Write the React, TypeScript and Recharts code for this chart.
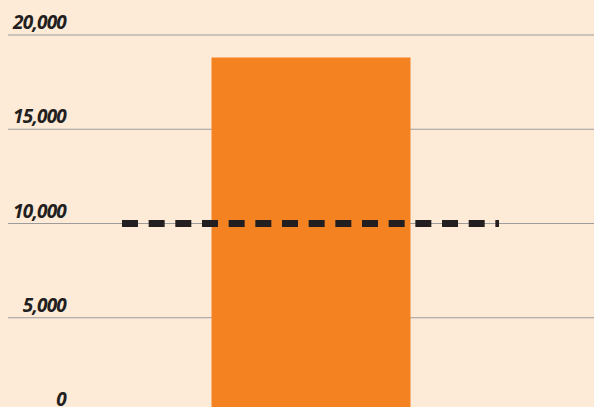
import React, { useLayoutEffect } from 'react';
import { ComposedChart, Bar, XAxis, YAxis, CartesianGrid, ReferenceLine } from 'recharts';

// horizontal positions on a 0-100 scale across the plot
const barPosition = [51.62];
const totals = [18800];
const target = 10000;
const targetStart = 19.45;
const targetEnd = 83.79;
const yTicks = [0, 5000, 10000, 15000, 20000];

const chartData = barPosition.map((x, i) => ({ x, total: totals[i] }));

const BG = '#fdead7';

const renderTick = (props: any) => {
    const { y, payload } = props;
    return (
        <text
            key={payload.value}
            x={58}
            y={y - 6}
            textAnchor="end"
            fontFamily="'Open Sans', 'Noto Sans', sans-serif"
            fontStyle="italic"
            fontWeight={700}
            fontSize={19}
            letterSpacing={-0.8}
            fill="#231f20"
        >
            {Number(payload.value).toLocaleString('en-US')}
        </text>
    );
};

export default function App() {
    useLayoutEffect(() => {
        document.body.style.margin = '0';
        document.body.style.background = BG;
        document.body.style.overflow = 'hidden';
    }, []);

    return (
        <div style={{ width: 594, height: 407, overflow: 'hidden', background: BG }}>
            <div style={{ paddingLeft: 8, paddingTop: 8 }}>
                <ComposedChart
                    width={586}
                    height={404}
                    data={chartData}
                    margin={{ top: 27, right: 0, bottom: 0, left: 0 }}
                >
                    <CartesianGrid vertical={false} stroke="#9c9c9c" strokeWidth={1.2} />
                    <XAxis type="number" dataKey="x" domain={[0, 100]} hide />
                    <YAxis
                        domain={[0, 20000]}
                        ticks={yTicks}
                        width={60}
                        mirror
                        interval={0}
                        axisLine={false}
                        tickLine={false}
                        tick={renderTick}
                    />
                    <Bar dataKey="total" fill="#f58220" barSize={199} isAnimationActive={false} />
                    <ReferenceLine
                        segment={[
                            { x: targetStart, y: target },
                            { x: targetEnd, y: target },
                        ]}
                        stroke="#231f20"
                        strokeWidth={7}
                        strokeDasharray="16 10.67"
                    />
                </ComposedChart>
            </div>
        </div>
    );
}
